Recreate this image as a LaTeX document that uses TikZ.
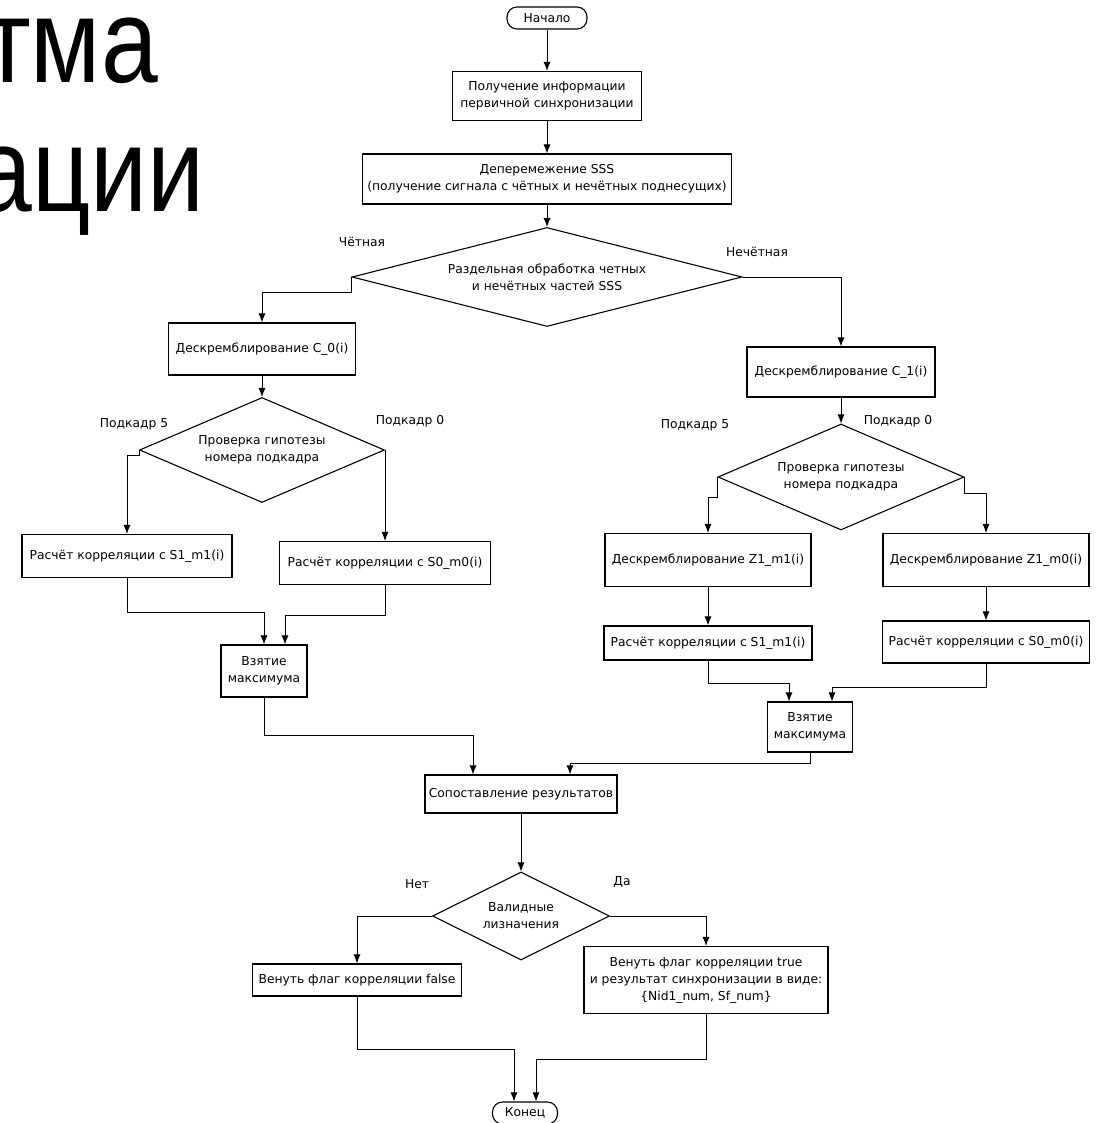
\documentclass[tikz,border=0pt]{standalone}
\usepackage{fontspec}
\setmainfont{DejaVu Sans}
\newfontfamily\titlefont[FakeStretch=0.85]{Liberation Sans}
\usetikzlibrary{arrows.meta,shapes.geometric}
\begin{document}
\begin{tikzpicture}[x=1pt,y=-1pt,
  every node/.style={font=\fontsize{12.3}{17}\selectfont, text=black},
  box/.style={draw, line width=1.1pt, align=center, inner sep=2pt},
  dia/.style={draw, diamond, line width=1.1pt, align=center, inner sep=0pt},
  term/.style={draw, line width=1.1pt, rounded corners=10pt, inner sep=0pt},
  conn/.style={line width=0.9pt, -{Latex[length=9pt,width=7pt]}},
  lbl/.style={inner sep=0pt}
]
\useasboundingbox (0,0) rectangle (1099,1123);
\clip (0,0) rectangle (1099,1123);

% title fragments
\node[anchor=base east, inner sep=0pt, font=\titlefont\fontsize{120}{120}\selectfont] (tt1) at (158,83) {тма};
\node[anchor=base east, inner sep=0pt, font=\titlefont\fontsize{120}{120}\selectfont] (tt2) at (205,212) {ации};

% nodes
\node[term, minimum width=80pt, minimum height=22pt] (start) at (547,18) {Начало};
\node[box, minimum width=189pt, minimum height=49pt] (b1) at (547,96) {Получение информации\\первичной синхронизации};
\node[box, minimum width=369pt, minimum height=50pt] (b2) at (547,179) {Деперемежение SSS\\(получение сигнала с чётных и нечётных поднесущих)};
\node[dia, minimum width=390pt, minimum height=99pt, shape aspect=3.94] (d1) at (547,277) {Раздельная обработка четных\\и нечётных частей SSS};

\node[box, minimum width=187pt, minimum height=52pt] (c0) at (262,349) {Дескремблирование C\_0(i)};
\node[box, minimum width=188pt, minimum height=50pt] (c1) at (841,372) {Дескремблирование C\_1(i)};

\node[dia, minimum width=245pt, minimum height=105pt, shape aspect=2.33] (d2) at (262,450) {Проверка гипотезы\\номера подкадра};
\node[dia, minimum width=246pt, minimum height=106pt, shape aspect=2.32] (d3) at (841,477) {Проверка гипотезы\\номера подкадра};

\node[box, minimum width=210pt, minimum height=43pt] (L1) at (127,556) {Расчёт корреляции с S1\_m1(i)};
\node[box, minimum width=211pt, minimum height=43pt] (L2) at (385,563) {Расчёт корреляции с S0\_m0(i)};
\node[box, minimum width=86pt, minimum height=52pt] (mx1) at (264,671) {Взятие\\максимума};

\node[box, minimum width=206pt, minimum height=53pt] (R1) at (708,560) {Дескремблирование Z1\_m1(i)};
\node[box, minimum width=206pt, minimum height=53pt] (R2) at (986,560) {Дескремблирование Z1\_m0(i)};
\node[box, minimum width=208pt, minimum height=34pt] (R3) at (708,643) {Расчёт корреляции с S1\_m1(i)};
\node[box, minimum width=207pt, minimum height=42pt] (R4) at (986,642) {Расчёт корреляции с S0\_m0(i)};
\node[box, minimum width=85pt, minimum height=50pt] (mx2) at (810,727) {Взятие\\максимума};

\node[box, minimum width=192pt, minimum height=38pt] (cmp) at (521,794) {Сопоставление результатов};
\node[dia, minimum width=177pt, minimum height=88pt, shape aspect=2.0] (d4) at (521,916) {Валидные\\лизначения};
\node[box, minimum width=209pt, minimum height=32pt] (f) at (357,980) {Венуть флаг корреляции false};
\node[box, minimum width=244pt, minimum height=67pt] (t) at (706,980) {Венуть флаг корреляции true\\и результат синхронизации в виде:\\\{Nid1\_num, Sf\_num\}};
\node[term, minimum width=65pt, minimum height=22pt] (end) at (525,1113) {Конец};

% labels
\node[lbl] (l1) at (362,242) {Чётная};
\node[lbl] (l2) at (757,252) {Нечётная};
\node[lbl] (l3) at (134,424) {Подкадр 5};
\node[lbl] (l4) at (410,421) {Подкадр 0};
\node[lbl] (l5) at (695,425) {Подкадр 5};
\node[lbl] (l6) at (898,421) {Подкадр 0};
\node[lbl] (l7) at (417,884) {Нет};
\node[lbl] (l8) at (622,882) {Да};

% connectors
\draw[conn] (start.south) -- (b1.north);
\draw[conn] (b1.south) -- (b2.north);
\draw[conn] (b2.south) -- (d1.north);
\draw[conn] (d1.west) -- ++(0,15) -| (c0.north);
\draw[conn] (d1.east) -| (c1.north);
\draw[conn] (c0.south) -- (d2.north);
\draw[conn] (c1.south) -- (d3.north);
\draw[conn] (d2.west) -- ++(0,5) -| (L1.north);
\draw[conn] (d2.east) -- ++(0,15) -| (L2.north);
\draw[conn] (d3.west) -- ++(0,20) -| (R1.north);
\draw[conn] (d3.east) -- ++(0,16) -| (R2.north);
\draw[conn] (R1.south) -- (R3.north);
\draw[conn] (R2.south) -- (R4.north);
\draw[conn] (L1.south) -- ++(0,34) -| (mx1.north);
\draw[conn] (L2.south) -- ++(0,30) -| ([xshift=21pt]mx1.north);
\draw[conn] (mx1.south) -- ++(0,38) -| ([xshift=-48pt]cmp.north);
\draw[conn] (R3.south) -- ++(0,23) -| ([xshift=-21pt]mx2.north);
\draw[conn] (R4.south) -- ++(0,24) -| ([xshift=22pt]mx2.north);
\draw[conn] (mx2.south) -- ++(0,11) -| ([xshift=49pt]cmp.north);
\draw[conn] (cmp.south) -- (d4.north);
\draw[conn] (d4.west) -| (f.north);
\draw[conn] (d4.east) -| (t.north);
\draw[conn] (f.south) -- ++(0,53) -| ([xshift=-11pt]end.north);
\draw[conn] (t.south) -- ++(0,45) -| ([xshift=11pt]end.north);
\end{tikzpicture}
\end{document}
